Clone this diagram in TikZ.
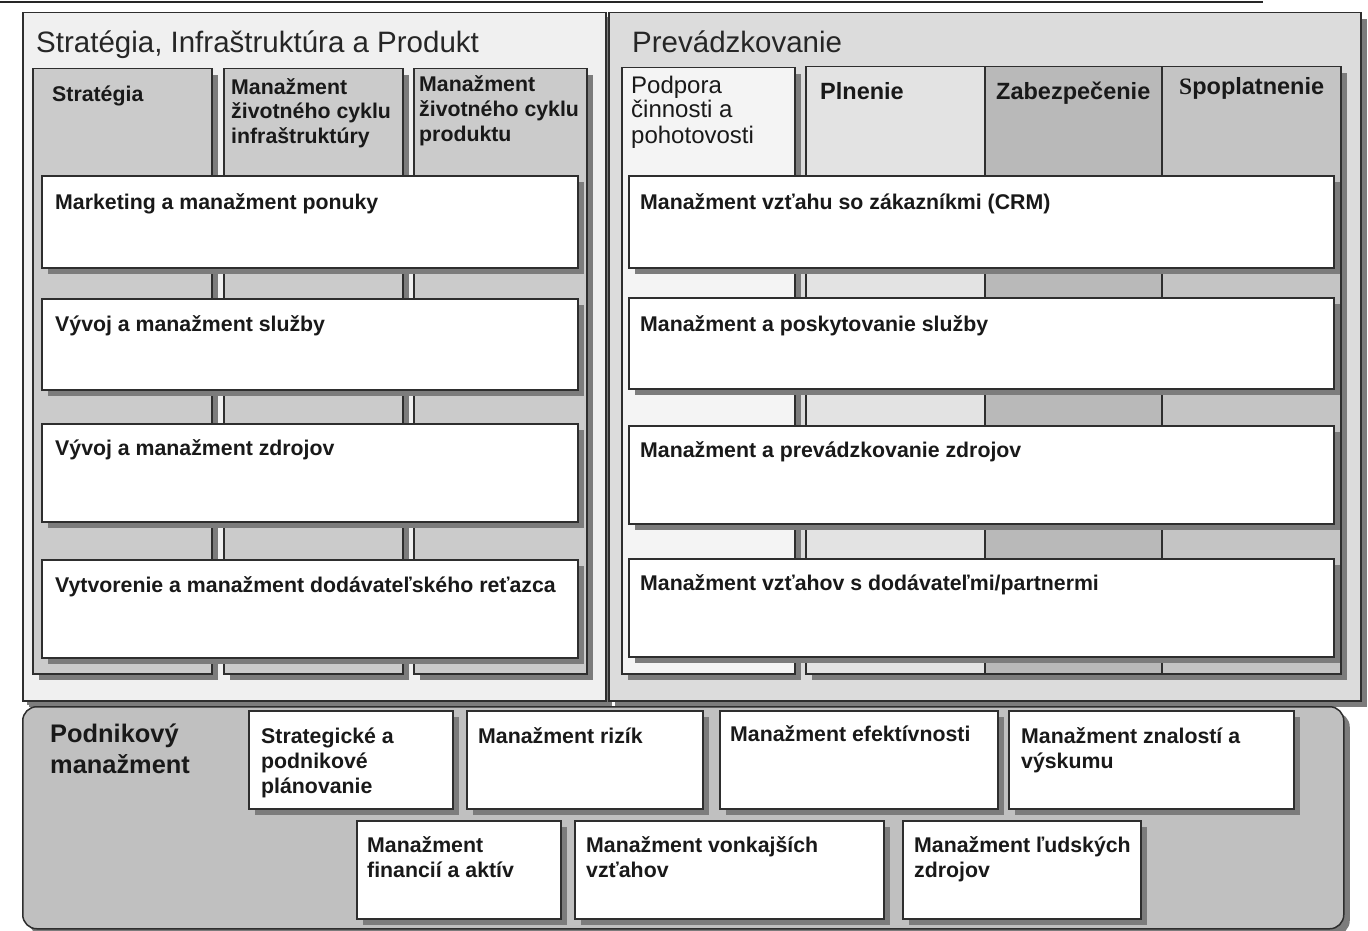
\documentclass[tikz,border=0pt]{standalone}
\usepackage{fontspec}
\setmainfont{Liberation Sans}
\newfontfamily\serifS{Liberation Serif}
\usetikzlibrary{positioning,shadows}

\definecolor{edge}{HTML}{2E2E2E}
\definecolor{shade}{HTML}{7C7C7C}
\definecolor{paneA}{HTML}{F0F0F0}
\definecolor{paneB}{HTML}{DCDCDC}
\definecolor{paneC}{HTML}{C0C0C0}
\definecolor{colA}{HTML}{CBCBCB}
\definecolor{colP}{HTML}{F4F4F4}
\definecolor{colQ}{HTML}{E3E3E3}
\definecolor{colR}{HTML}{B9B9B9}
\definecolor{colS}{HTML}{C4C4C4}

\tikzset{
  box/.style={rectangle, draw=edge, line width=1.5pt, inner sep=0pt, anchor=north west,
    general shadow={fill=shade, shadow xshift=6pt, shadow yshift=-6pt}},
  rowbox/.style={box, fill=white, minimum width=#1, minimum height=92pt},
  lbl/.style={anchor=base west, inner sep=0pt, align=left, text=black!90,
    font=\fontsize{21.3}{25}\selectfont\bfseries},
  plain/.style={lbl, font=\fontsize{24}{25}\selectfont},
  head/.style={lbl, font=\fontsize{23.5}{25}\selectfont\bfseries},
  title/.style={anchor=base west, inner sep=0pt, text=black!85, font=\fontsize{29.5}{32}\selectfont},
}

\begin{document}
\begin{tikzpicture}[x=1pt, y=-1pt]
  \useasboundingbox (0,0) rectangle (1368,931);

  % rule on top
  \coordinate (rule-l) at (0,2);
  \coordinate (rule-r) at (1263,2);
  \draw[line width=2pt, black!85] (rule-l) -- (rule-r);

  % two big panes
  \node[box, fill=paneA, minimum width=583pt, minimum height=688pt, general shadow={fill=shade, shadow xshift=4pt, shadow yshift=-4pt}] (sip) at (22,12) {};
  \node[box, fill=paneB, minimum width=752pt, minimum height=688pt] (prev) at (608,12) {};
  \node[title] (sip-t) at ([shift={(14,41)}]sip.north west) {Stratégia, Infraštruktúra a Produkt};
  \node[title] (prev-t) at ([shift={(24,41)}]prev.north west) {Prevádzkovanie};

  % columns, left pane
  \node[box, fill=colA, minimum width=179pt, minimum height=605pt] (strat) at (32,68) {};
  \node[box, fill=colA, minimum width=179pt, minimum height=605pt] (infra) at (223,68) {};
  \node[box, fill=colA, minimum width=173pt, minimum height=605pt] (prod) at (413,68) {};
  % multi-line labels sit on their last line
  \node[lbl] (strat-t) at ([shift={(20,34)}]strat.north west) {Stratégia};
  \node[lbl] (infra-t) at ([shift={(8,76)}]infra.north west) {Manažment\\životného cyklu\\infraštruktúry};
  \node[lbl] (prod-t) at ([shift={(6,74)}]prod.north west) {Manažment\\životného cyklu\\produktu};

  % columns, right pane
  \node[box, fill=colP, minimum width=173pt, minimum height=606pt] (podp) at (621,67) {};
  \node[box, fill=colQ, minimum width=179pt, minimum height=607pt] (pln) at (805,66) {};
  \node[box, fill=colR, minimum width=177pt, minimum height=607pt] (zab) at (984,66) {};
  \node[box, fill=colS, minimum width=179pt, minimum height=607pt] (spo) at (1161,66) {};
  \node[plain] (podp-t) at ([shift={(10,76)}]podp.north west) {Podpora\\činnosti a\\pohotovosti};
  \node[head] (pln-t) at ([shift={(15,34)}]pln.north west) {Plnenie};
  \node[head] (zab-t) at ([shift={(12,34)}]zab.north west) {Zabezpečenie};
  \node[head] (spo-t) at ([shift={(18,29)}]spo.north west) {{\serifS S}poplatnenie};

  % rows, left pane
  \node[rowbox=536pt] (mark) at (41,175) {};
  \node[rowbox=536pt, minimum height=91pt] (vsl) at (41,298) {};
  \node[rowbox=536pt, minimum height=98pt] (vzd) at (41,423) {};
  \node[rowbox=536pt, minimum height=98pt] (dod) at (41,559) {};
  \node[lbl] (mark-t) at ([shift={(14,34)}]mark.north west) {Marketing a manažment ponuky};
  \node[lbl] (vsl-t) at ([shift={(14,33)}]vsl.north west) {Vývoj a manažment služby};
  \node[lbl] (vzd-t) at ([shift={(14,32)}]vzd.north west) {Vývoj a manažment zdrojov};
  \node[lbl] (dod-t) at ([shift={(14,33)}]dod.north west) {Vytvorenie a manažment dodávateľského reťazca};

  % rows, right pane
  \node[rowbox=705pt] (crm) at (628,175) {};
  \node[rowbox=705pt, minimum height=91pt] (psl) at (628,297) {};
  \node[rowbox=705pt, minimum height=98pt] (pzd) at (628,425) {};
  \node[rowbox=705pt, minimum height=98pt] (part) at (628,558) {};
  \node[lbl] (crm-t) at ([shift={(12,34)}]crm.north west) {Manažment vzťahu so zákazníkmi (CRM)};
  \node[lbl] (psl-t) at ([shift={(12,34)}]psl.north west) {Manažment a poskytovanie služby};
  \node[lbl] (pzd-t) at ([shift={(12,32)}]pzd.north west) {Manažment a prevádzkovanie zdrojov};
  \node[lbl] (part-t) at ([shift={(12,32)}]part.north west) {Manažment vzťahov s dodávateľmi/partnermi};

  % enterprise management
  \node[box, fill=paneC, rounded corners=14pt, minimum width=1321pt, minimum height=222pt] (podn) at (22,706) {};
  \node[lbl, font=\fontsize{25.4}{31}\selectfont\bfseries] (podn-t) at ([shift={(28,67)}]podn.north west) {Podnikový\\manažment};

  \node[box, fill=white, minimum width=204pt, minimum height=98pt] (plan) at (248,710) {};
  \node[box, fill=white, minimum width=236pt, minimum height=98pt] (riz) at (466,710) {};
  \node[box, fill=white, minimum width=278pt, minimum height=98pt] (efk) at (719,710) {};
  \node[box, fill=white, minimum width=285pt, minimum height=98pt] (znal) at (1008,710) {};
  \node[box, fill=white, minimum width=204pt, minimum height=98pt] (fin) at (356,820) {};
  \node[box, fill=white, minimum width=309pt, minimum height=98pt] (vonk) at (574,820) {};
  \node[box, fill=white, minimum width=238pt, minimum height=98pt] (ludia) at (902,820) {};
  \node[lbl] (plan-t) at ([shift={(13,83)}]plan.north west) {Strategické a\\podnikové\\plánovanie};
  \node[lbl] (riz-t) at ([shift={(12,33)}]riz.north west) {Manažment rizík};
  \node[lbl] (efk-t) at ([shift={(11,31)}]efk.north west) {Manažment efektívnosti};
  \node[lbl] (znal-t) at ([shift={(13,58)}]znal.north west) {Manažment znalostí a\\výskumu};
  \node[lbl] (fin-t) at ([shift={(11,57)}]fin.north west) {Manažment\\financií a aktív};
  \node[lbl] (vonk-t) at ([shift={(12,57)}]vonk.north west) {Manažment vonkajších\\vzťahov};
  \node[lbl] (ludia-t) at ([shift={(12,57)}]ludia.north west) {Manažment ľudských\\zdrojov};
\end{tikzpicture}
\end{document}
